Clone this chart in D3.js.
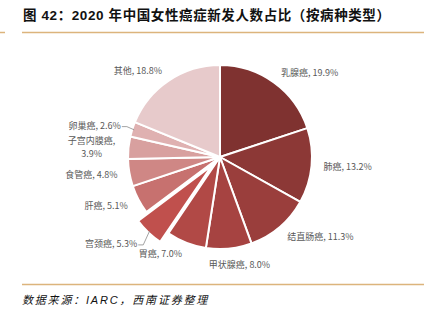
<!DOCTYPE html>
<html><head><meta charset="utf-8">
<script src="https://cdn.jsdelivr.net/npm/d3@7"></script>
<style>
html,body{margin:0;padding:0;background:#fff;}
svg{display:block;}
</style></head>
<body>
<svg id="c" width="430" height="323"></svg>
<script>
const categories = ["乳腺癌","肺癌","结直肠癌","甲状腺癌","胃癌","宫颈癌","肝癌","食管癌","子宫内膜癌","卵巢癌","其他"];
const values = [19.9,13.2,11.3,8.0,7.0,5.3,5.1,4.8,3.9,2.6,18.8];
const colors = ["#7f3230","#8c3836","#9a3e3c","#a64341","#b14946","#c0504d","#c7716f","#cf8785","#d8a09f","#dfb1b1","#e7cacb"];
const exploded = ["宫颈癌"];
const titleText = "图 42：2020 年中国女性癌症新发人数占比（按病种类型）";
const sourceText = "数据来源：IARC，西南证券整理";

const svg = d3.select("#c");
const W = 430;
const cx = 220, cy = 157, R = 92;
const lineColor = "#dcb47c";

// header
svg.append("line").attr("x1",0).attr("x2",5).attr("y1",32.5).attr("y2",32.5).attr("stroke",lineColor).attr("stroke-width",1.5);
svg.append("line").attr("x1",22).attr("x2",424).attr("y1",32.5).attr("y2",32.5).attr("stroke",lineColor).attr("stroke-width",1.5);
svg.append("text").attr("x",23).attr("y",20)
  .attr("font-family","'Liberation Sans','Noto Sans CJK SC',sans-serif")
  .attr("font-weight","bold").attr("font-size",13.5).attr("letter-spacing",0.6)
  .attr("fill","#111").text(titleText);
// footer
svg.append("line").attr("x1",22).attr("x2",424).attr("y1",284.5).attr("y2",284.5).attr("stroke",lineColor).attr("stroke-width",1.5);
svg.append("text").attr("x",22).attr("y",304)
  .attr("font-family","'Liberation Sans','Noto Sans CJK SC',sans-serif")
  .attr("font-style","italic").attr("font-size",11).attr("letter-spacing",1.8)
  .attr("fill","#111").text(sourceText);

const data = categories.map((c,i)=>({name:c, value:values[i], color:colors[i]}));
const pie = d3.pie().value(d=>d.value).sort(null);
const arcs = pie(data);
const arc = d3.arc().innerRadius(0).outerRadius(R);
const g = svg.append("g").attr("transform",`translate(${cx},${cy})`);

const explodeDist = 12;
function offset(d){
  if(!exploded.includes(d.data.name)) return [0,0];
  const a = (d.startAngle+d.endAngle)/2;
  return [Math.sin(a)*explodeDist, -Math.cos(a)*explodeDist];
}

g.selectAll("path.slice").data(arcs).join("path")
  .attr("class","slice")
  .attr("d",arc)
  .attr("transform",d=>{const o=offset(d);return `translate(${o[0]},${o[1]})`;})
  .attr("fill",d=>d.data.color)
  .attr("stroke","#fff").attr("stroke-width",2).attr("stroke-linejoin","round");

// labels
const labelFont = "'Noto Sans CJK SC','Liberation Sans',sans-serif";
arcs.forEach(d=>{
  const a = (d.startAngle+d.endAngle)/2;
  const deg = a*180/Math.PI;
  const o = offset(d);
  let r = 104, anchor;
  if(deg>160 && deg<190){anchor="middle"; r=108;}
  else if(deg<=160) anchor="start";
  else anchor="end";
  if(exploded.includes(d.data.name)) r = 108;
  let x = Math.sin(a)*r + o[0], y = -Math.cos(a)*r + o[1];
  if(anchor==="middle"){ x += 9; }
  const t = g.append("text").attr("x",x).attr("y",y)
    .attr("text-anchor",anchor).attr("dominant-baseline","central")
    .attr("font-family",labelFont).attr("font-size",9).attr("fill","#595959");
  const label = d.data.name + ", " + d.data.value.toFixed(1) + "%";
  if(d.data.name==="子宫内膜癌"){
    const w = 50;
    t.attr("text-anchor","middle");
    t.append("tspan").attr("x",x - w/2).attr("dy","-0.7em").text(d.data.name + ",");
    t.append("tspan").attr("x",x - w/2).attr("dy","1.45em").text(d.data.value.toFixed(1)+"%");
  } else {
    t.text(label);
  }
  // short leader lines for small/exploded slices
  if(d.data.name==="卵巢癌" || exploded.includes(d.data.name)){
    const ex = Math.sin(a)*(R-2)+o[0], ey = -Math.cos(a)*(R-2)+o[1];
    g.append("polyline")
      .attr("points",`${x+1},${y+1} ${x+6},${y+1} ${ex},${ey}`)
      .attr("fill","none").attr("stroke","#8c8c8c").attr("stroke-width",0.8);
  }
});
</script>
</body></html>
